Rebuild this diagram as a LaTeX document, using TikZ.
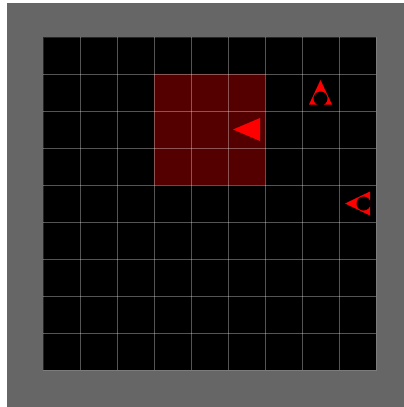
\documentclass[tikz,border=0pt]{standalone}
\definecolor{bggray}{RGB}{102,102,102}
\definecolor{darkred}{RGB}{85,0,0}
\definecolor{agentred}{RGB}{255,0,0}
\tikzset{
  gridline/.style={draw=white, draw opacity=0.33, line width=0.9pt},
  agent/.style={fill=agentred},
  agenthole/.style={fill=black}
}
\begin{document}
\begin{tikzpicture}[x=1pt,y=-1pt]
\useasboundingbox (0,0) rectangle (404,407);
\fill[white] (0,0) rectangle (404,407);
\fill[bggray] (7,3) rectangle (404,407);
\fill[black] (43,37) rectangle (376,370);
\fill[darkred] (154,74) rectangle (265,185);
\foreach \i in {1,...,8} {
  \draw[gridline] ({43+37*\i},37) -- ({43+37*\i},370);
  \draw[gridline] (43,{37+37*\i}) -- (376,{37+37*\i});
}
\draw[draw=white, draw opacity=0.15, line width=0.8pt] (43,37) rectangle (376,370);
% big agent
\fill[agent] (233,129.5) -- (260,118) -- (260,141) -- cycle;
% small agent 1 (pointing up)
\fill[agent] (320.5,80) -- (309,104.5) -- (332,104.5) -- cycle;
\fill[agenthole] (320.5,98.5) circle (7);
% small agent 2 (pointing left)
\fill[agent] (345,203.5) -- (370,191.5) -- (370,215.5) -- cycle;
\fill[agenthole] (363.5,203.5) circle (7);
\end{tikzpicture}
\end{document}
